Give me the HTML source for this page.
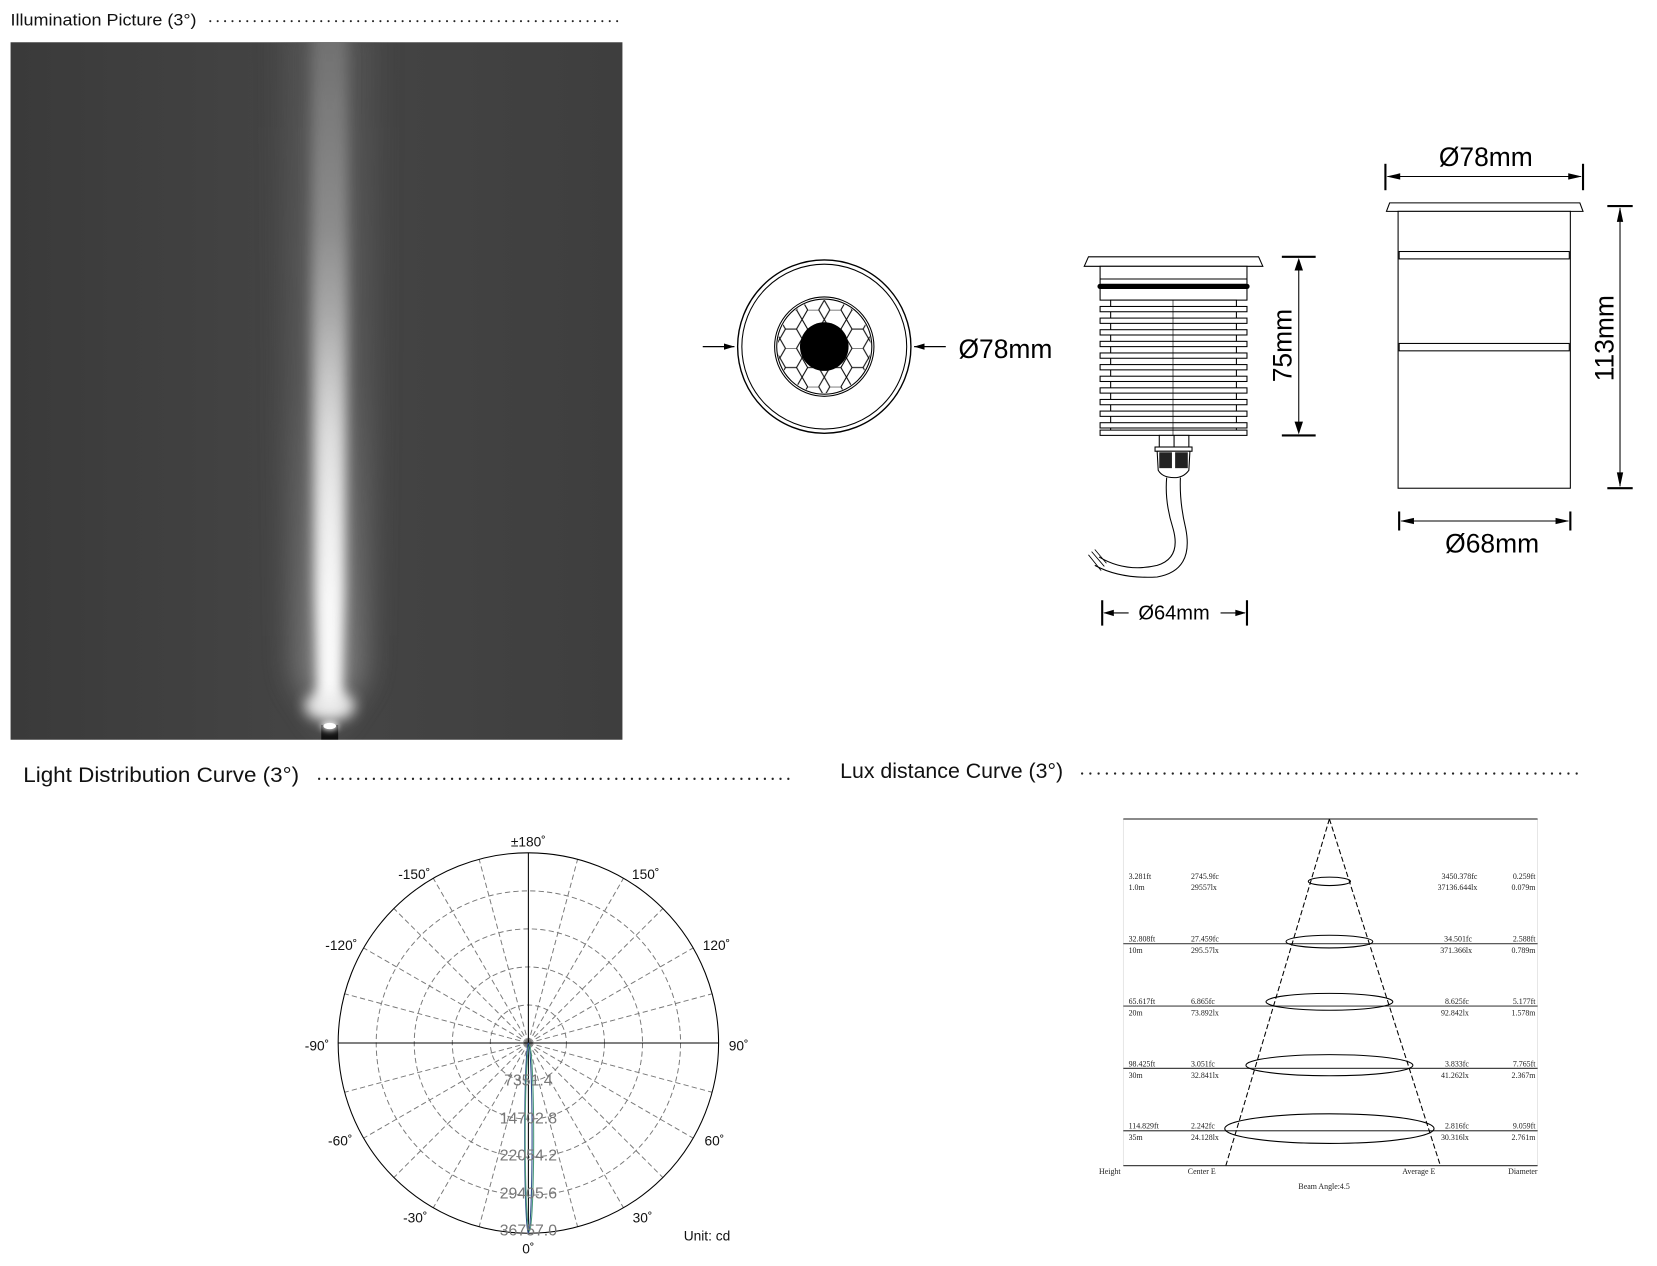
<!DOCTYPE html>
<html><head><meta charset="utf-8">
<style>
html,body{margin:0;padding:0;background:#fff;}
svg{display:block;}
.h{font-family:"Liberation Sans",sans-serif;fill:#111;}
.d{font-family:"Liberation Sans",sans-serif;fill:#000;}
.s{font-family:"Liberation Serif",serif;fill:#222;font-size:7.5px;}
.p{font-family:"Liberation Sans",sans-serif;fill:#111;font-size:13px;}
.v{font-family:"Liberation Sans",sans-serif;fill:#777;font-size:15px;}
</style></head><body>
<svg width="1657" height="1266" viewBox="0 0 1568 1198" xmlns="http://www.w3.org/2000/svg" preserveAspectRatio="none">
<defs>
<linearGradient id="bg" x1="0" y1="0" x2="1" y2="0">
<stop offset="0" stop-color="#3a3a3a"/><stop offset="0.5" stop-color="#454545"/><stop offset="1" stop-color="#3e3e3e"/>
</linearGradient>
<linearGradient id="halo" x1="0" y1="0" x2="0" y2="1">
<stop offset="0" stop-color="#555"/><stop offset="0.5" stop-color="#5e5e5e"/><stop offset="1" stop-color="#8a8a8a"/>
</linearGradient>
<linearGradient id="core" x1="0" y1="0" x2="0" y2="1">
<stop offset="0" stop-color="#6e6e6e"/><stop offset="0.3" stop-color="#8c8c8c"/><stop offset="0.6" stop-color="#cfcfcf"/><stop offset="0.85" stop-color="#f2f2f2"/><stop offset="1" stop-color="#fafafa"/>
</linearGradient>
<linearGradient id="wh" x1="0" y1="0" x2="0" y2="1">
<stop offset="0" stop-color="#fff" stop-opacity="0"/><stop offset="0.5" stop-color="#fff" stop-opacity="0.5"/><stop offset="1" stop-color="#fff" stop-opacity="0.8"/>
</linearGradient>
<filter id="bl" filterUnits="userSpaceOnUse" x="0" y="0" width="700" height="760"><feGaussianBlur stdDeviation="14"/></filter>
<filter id="bl2" filterUnits="userSpaceOnUse" x="0" y="0" width="700" height="760"><feGaussianBlur stdDeviation="6"/></filter>
<filter id="bl3" filterUnits="userSpaceOnUse" x="0" y="0" width="700" height="760"><feGaussianBlur stdDeviation="3"/></filter>
<clipPath id="ph"><rect x="10" y="40" width="579" height="660"/></clipPath>
<pattern id="hex" width="21" height="36.4" patternUnits="userSpaceOnUse" x="3" y="2">
<path d="M0,9.1 L5.25,0 L15.75,0 L21,9.1 L15.75,18.2 L5.25,18.2 Z M15.75,18.2 L21,27.3 M5.25,18.2 L0,27.3 L5.25,36.4 M21,27.3 L15.75,36.4" fill="none" stroke="#000" stroke-width="1"/>
</pattern>
<clipPath id="hc"><circle cx="780" cy="328" r="44"/></clipPath>
<marker id="ar" viewBox="0 0 10 6" refX="10" refY="3" markerWidth="10" markerHeight="6" orient="auto" markerUnits="userSpaceOnUse"><path d="M0,0 L10,3 L0,6 Z" fill="#000"/></marker>
</defs>

<!-- Headers -->
<text class="h" x="10" y="24" font-size="16" textLength="176" lengthAdjust="spacingAndGlyphs">Illumination Picture (3°)</text>
<line x1="199" y1="20" x2="590" y2="20" stroke="#222" stroke-width="2" stroke-dasharray="0 7" stroke-linecap="round"/>
<text class="h" x="22" y="740" font-size="20" textLength="261" lengthAdjust="spacingAndGlyphs">Light Distribution Curve (3°)</text>
<line x1="302" y1="737" x2="748" y2="737" stroke="#222" stroke-width="2.2" stroke-dasharray="0 7.4" stroke-linecap="round"/>
<text class="h" x="795" y="736" font-size="20" textLength="211" lengthAdjust="spacingAndGlyphs">Lux distance Curve (3°)</text>
<line x1="1024" y1="732" x2="1492" y2="732" stroke="#222" stroke-width="2.2" stroke-dasharray="0 7.8" stroke-linecap="round"/>

<!-- Photo -->
<rect x="10" y="40" width="579" height="660" fill="url(#bg)"/>
<g clip-path="url(#ph)">
<path d="M270,20 L352,20 L350,400 L345,640 L312,690 L279,640 L274,400 Z" fill="url(#halo)" filter="url(#bl)" opacity="0.9"/>
<path d="M295,20 L329,20 L329,300 L326,560 L322,670 L302,670 L298,560 L295,300 Z" fill="url(#core)" filter="url(#bl2)"/>
<path d="M303,300 L321,300 L319,665 L305,665 Z" fill="url(#wh)" filter="url(#bl2)"/>
<ellipse cx="312" cy="668" rx="24" ry="14" fill="#eee" filter="url(#bl2)" opacity="0.9"/>
<rect x="304" y="686" width="16" height="14" fill="#111"/>
<ellipse cx="312" cy="687" rx="8" ry="4" fill="#fff" filter="url(#bl3)"/>
<ellipse cx="312" cy="687" rx="6" ry="3" fill="#fff"/>
</g>

<!-- Top view -->
<g fill="none" stroke="#000">
<circle cx="780" cy="328" r="82" stroke-width="1.3"/>
<circle cx="780" cy="328" r="78" stroke-width="1"/>
<circle cx="780" cy="328" r="47" stroke-width="1"/>
<circle cx="780" cy="328" r="45" stroke-width="1"/>
<rect x="730" y="280" width="100" height="100" fill="url(#hex)" stroke="none" clip-path="url(#hc)"/>
</g>
<circle cx="780" cy="328" r="23" fill="#000"/>
<line x1="665" y1="328" x2="695" y2="328" stroke="#000" stroke-width="1.2" marker-end="url(#ar)"/>
<line x1="895" y1="328" x2="865" y2="328" stroke="#000" stroke-width="1.2" marker-end="url(#ar)"/>
<text class="d" x="907" y="339" font-size="25">Ø78mm</text>

<!-- Side view 1 -->
<g fill="#fff" stroke="#000" stroke-width="1">
<path d="M1026,252 L1030,243 L1191,243 L1195,252 Z"/>
<rect x="1041" y="252" width="139" height="32"/>
</g>
<line x1="1041" y1="264" x2="1180" y2="264" stroke="#000" stroke-width="1"/>
<line x1="1041" y1="271" x2="1180" y2="271" stroke="#000" stroke-width="5" stroke-linecap="round"/>
<g fill="#fff" stroke="#000" stroke-width="1">
<rect x="1051" y="284" width="119" height="127"/>
<rect x="1041" y="290" width="139" height="5"/>
<rect x="1041" y="301" width="139" height="5"/>
<rect x="1041" y="312" width="139" height="5"/>
<rect x="1041" y="323" width="139" height="5"/>
<rect x="1041" y="334" width="139" height="5"/>
<rect x="1041" y="345" width="139" height="5"/>
<rect x="1041" y="356" width="139" height="5"/>
<rect x="1041" y="367" width="139" height="5"/>
<rect x="1041" y="378" width="139" height="5"/>
<rect x="1041" y="389" width="139" height="5"/>
<rect x="1041" y="400" width="139" height="5"/>
<rect x="1041" y="407" width="139" height="5"/>
</g>
<line x1="1110" y1="284" x2="1110" y2="412" stroke="#000" stroke-width="0.6"/>
<!-- gland -->
<g stroke="#000" stroke-width="1" fill="#fff">
<rect x="1097" y="412" width="28" height="11"/>
<line x1="1111" y1="412" x2="1111" y2="423"/>
<rect x="1093" y="423" width="35" height="4"/>
<path d="M1095,427 L1126,427 L1125,445 Q1120,452 1111,452 Q1100,452 1096,445 Z"/>
</g>
<rect x="1097" y="428" width="12" height="15" fill="#222"/>
<rect x="1112" y="428" width="12" height="15" fill="#222"/>
<path d="M1104,452 Q1102,475 1110,500 Q1118,528 1095,535 Q1065,542 1040,527" fill="none" stroke="#000" stroke-width="1"/>
<path d="M1117,452 Q1116,475 1122,500 Q1130,540 1095,546 Q1060,548 1036,535" fill="none" stroke="#000" stroke-width="1"/>
<path d="M1030,525 L1042,540 M1033,522 L1045,536 M1036,520 L1047,533" stroke="#000" stroke-width="0.8"/>
<!-- 75mm dim -->
<g stroke="#000" stroke-width="2">
<line x1="1213" y1="243" x2="1245" y2="243"/>
<line x1="1213" y1="412" x2="1245" y2="412"/>
</g>
<line x1="1229" y1="246" x2="1229" y2="409" stroke="#000" stroke-width="1"/>
<path d="M1229,244 L1225,256 L1233,256 Z M1229,411 L1225,399 L1233,399 Z" fill="#000"/>
<text class="d" transform="translate(1222,327) rotate(-90)" text-anchor="middle" font-size="25">75mm</text>
<!-- 64mm dim -->
<g stroke="#000" stroke-width="2">
<line x1="1043" y1="568" x2="1043" y2="592"/>
<line x1="1180" y1="568" x2="1180" y2="592"/>
</g>
<line x1="1045" y1="580" x2="1068" y2="580" stroke="#000" stroke-width="1"/>
<line x1="1155" y1="580" x2="1178" y2="580" stroke="#000" stroke-width="1"/>
<path d="M1044,580 L1054,577 L1054,583 Z M1179,580 L1169,577 L1169,583 Z" fill="#000"/>
<text class="d" x="1111" y="586" text-anchor="middle" font-size="19">Ø64mm</text>

<!-- Side view 2 -->
<g fill="#fff" stroke="#000" stroke-width="1">
<path d="M1312,200 L1315,192 L1495,192 L1498,200 Z"/>
<rect x="1323" y="200" width="163" height="262"/>
<rect x="1324" y="238" width="161" height="7"/>
<rect x="1324" y="325" width="161" height="7"/>
</g>
<g stroke="#000" stroke-width="2">
<line x1="1311" y1="155" x2="1311" y2="180"/>
<line x1="1498" y1="155" x2="1498" y2="180"/>
</g>
<line x1="1313" y1="167" x2="1496" y2="167" stroke="#000" stroke-width="1"/>
<path d="M1312,167 L1325,164 L1325,170 Z M1497,167 L1484,164 L1484,170 Z" fill="#000"/>
<text class="d" x="1406" y="157" text-anchor="middle" font-size="25">Ø78mm</text>
<g stroke="#000" stroke-width="2">
<line x1="1324" y1="484" x2="1324" y2="502"/>
<line x1="1486" y1="484" x2="1486" y2="502"/>
</g>
<line x1="1326" y1="493" x2="1484" y2="493" stroke="#000" stroke-width="1"/>
<path d="M1325,493 L1338,490 L1338,496 Z M1485,493 L1472,490 L1472,496 Z" fill="#000"/>
<text class="d" x="1412" y="523" text-anchor="middle" font-size="25">Ø68mm</text>
<g stroke="#000" stroke-width="2">
<line x1="1521" y1="195" x2="1545" y2="195"/>
<line x1="1521" y1="462" x2="1545" y2="462"/>
</g>
<line x1="1533" y1="197" x2="1533" y2="460" stroke="#000" stroke-width="1"/>
<path d="M1533,196 L1530,210 L1536,210 Z M1533,461 L1530,447 L1536,447 Z" fill="#000"/>
<text class="d" transform="translate(1527,320) rotate(-90)" text-anchor="middle" font-size="25">113mm</text>

<!-- Polar chart -->
<g fill="none" stroke="#777" stroke-width="0.9" stroke-dasharray="5 3">
<circle cx="500" cy="987" r="36"/><circle cx="500" cy="987" r="72"/><circle cx="500" cy="987" r="108"/><circle cx="500" cy="987" r="144"/>
<g id="rad">
<line x1="500" y1="987" x2="500" y2="807" transform="rotate(15 500 987)"/>
<line x1="500" y1="987" x2="500" y2="807" transform="rotate(30 500 987)"/>
<line x1="500" y1="987" x2="500" y2="807" transform="rotate(45 500 987)"/>
<line x1="500" y1="987" x2="500" y2="807" transform="rotate(60 500 987)"/>
<line x1="500" y1="987" x2="500" y2="807" transform="rotate(75 500 987)"/>
<line x1="500" y1="987" x2="500" y2="807" transform="rotate(105 500 987)"/>
<line x1="500" y1="987" x2="500" y2="807" transform="rotate(120 500 987)"/>
<line x1="500" y1="987" x2="500" y2="807" transform="rotate(135 500 987)"/>
<line x1="500" y1="987" x2="500" y2="807" transform="rotate(150 500 987)"/>
<line x1="500" y1="987" x2="500" y2="807" transform="rotate(165 500 987)"/>
</g>
<use href="#rad" transform="rotate(180 500 987)"/>
</g>
<circle cx="500" cy="987" r="180" fill="none" stroke="#000" stroke-width="1"/>
<line x1="500" y1="807" x2="500" y2="1167" stroke="#000" stroke-width="1"/>
<line x1="320" y1="987" x2="680" y2="987" stroke="#000" stroke-width="1"/>
<ellipse cx="500" cy="1077" rx="3.5" ry="90" fill="none" stroke="#2a4a8a" stroke-width="1"/>
<ellipse cx="501" cy="1077" rx="4" ry="88" fill="none" stroke="#4a9a7a" stroke-width="1"/>
<text class="v" x="500" y="1027" text-anchor="middle">7351.4</text>
<text class="v" x="500" y="1063" text-anchor="middle">14702.8</text>
<text class="v" x="500" y="1098" text-anchor="middle">22054.2</text>
<text class="v" x="500" y="1134" text-anchor="middle">29405.6</text>
<text class="v" x="500" y="1169" text-anchor="middle">36757.0</text>
<text class="p" x="500" y="801" text-anchor="middle">±180˚</text>
<text class="p" x="392" y="832" text-anchor="middle">-150˚</text>
<text class="p" x="611" y="832" text-anchor="middle">150˚</text>
<text class="p" x="323" y="899" text-anchor="middle">-120˚</text>
<text class="p" x="678" y="899" text-anchor="middle">120˚</text>
<text class="p" x="300" y="994" text-anchor="middle">-90˚</text>
<text class="p" x="699" y="994" text-anchor="middle">90˚</text>
<text class="p" x="322" y="1084" text-anchor="middle">-60˚</text>
<text class="p" x="676" y="1084" text-anchor="middle">60˚</text>
<text class="p" x="393" y="1157" text-anchor="middle">-30˚</text>
<text class="p" x="608" y="1157" text-anchor="middle">30˚</text>
<text class="p" x="500" y="1186" text-anchor="middle">0˚</text>
<text class="p" x="647" y="1174">Unit: cd</text>

<!-- Lux chart -->
<line x1="1063" y1="775" x2="1063" y2="1103" stroke="#ddd" stroke-width="0.7"/>
<line x1="1455" y1="775" x2="1455" y2="1103" stroke="#ddd" stroke-width="0.7"/>
<g stroke="#444" stroke-width="1.1">
<line x1="1063" y1="775" x2="1455" y2="775"/>
<line x1="1063" y1="1103" x2="1455" y2="1103"/>
<line x1="1063" y1="893" x2="1455" y2="893"/>
<line x1="1063" y1="952" x2="1455" y2="952"/>
<line x1="1063" y1="1011" x2="1455" y2="1011"/>
<line x1="1063" y1="1070" x2="1455" y2="1070"/>
</g>
<g stroke="#000" stroke-width="1" stroke-dasharray="5 2.5">
<line x1="1258" y1="775" x2="1160" y2="1103"/>
<line x1="1258" y1="775" x2="1363" y2="1103"/>
</g>
<g fill="none" stroke="#000" stroke-width="1">
<ellipse cx="1258" cy="834" rx="20" ry="4"/>
<ellipse cx="1258" cy="891" rx="41" ry="6"/>
<ellipse cx="1258" cy="948" rx="60" ry="8"/>
<ellipse cx="1258" cy="1008" rx="79" ry="10"/>
<ellipse cx="1258" cy="1068" rx="99" ry="14"/>
</g>
<g class="s">
<text x="1068" y="832">3.281ft</text><text x="1068" y="842">1.0m</text>
<text x="1127" y="832">2745.9fc</text><text x="1127" y="842">29557lx</text>
<text x="1398" y="832" text-anchor="end">3450.378fc</text><text x="1398" y="842" text-anchor="end">37136.644lx</text>
<text x="1453" y="832" text-anchor="end">0.259ft</text><text x="1453" y="842" text-anchor="end">0.079m</text>

<text x="1068" y="891">32.808ft</text><text x="1068" y="902">10m</text>
<text x="1127" y="891">27.459fc</text><text x="1127" y="902">295.57lx</text>
<text x="1393" y="891" text-anchor="end">34.501fc</text><text x="1393" y="902" text-anchor="end">371.366lx</text>
<text x="1453" y="891" text-anchor="end">2.588ft</text><text x="1453" y="902" text-anchor="end">0.789m</text>

<text x="1068" y="950">65.617ft</text><text x="1068" y="961">20m</text>
<text x="1127" y="950">6.865fc</text><text x="1127" y="961">73.892lx</text>
<text x="1390" y="950" text-anchor="end">8.625fc</text><text x="1390" y="961" text-anchor="end">92.842lx</text>
<text x="1453" y="950" text-anchor="end">5.177ft</text><text x="1453" y="961" text-anchor="end">1.578m</text>

<text x="1068" y="1009">98.425ft</text><text x="1068" y="1020">30m</text>
<text x="1127" y="1009">3.051fc</text><text x="1127" y="1020">32.841lx</text>
<text x="1390" y="1009" text-anchor="end">3.833fc</text><text x="1390" y="1020" text-anchor="end">41.262lx</text>
<text x="1453" y="1009" text-anchor="end">7.765ft</text><text x="1453" y="1020" text-anchor="end">2.367m</text>

<text x="1068" y="1068">114.829ft</text><text x="1068" y="1079">35m</text>
<text x="1127" y="1068">2.242fc</text><text x="1127" y="1079">24.128lx</text>
<text x="1390" y="1068" text-anchor="end">2.816fc</text><text x="1390" y="1079" text-anchor="end">30.316lx</text>
<text x="1453" y="1068" text-anchor="end">9.059ft</text><text x="1453" y="1079" text-anchor="end">2.761m</text>

<text x="1040" y="1111">Height</text>
<text x="1124" y="1111">Center E</text>
<text x="1327" y="1111">Average E</text>
<text x="1455" y="1111" text-anchor="end">Diameter</text>
<text x="1253" y="1125" text-anchor="middle">Beam Angle:4.5</text>
</g>
</svg>
</body></html>
